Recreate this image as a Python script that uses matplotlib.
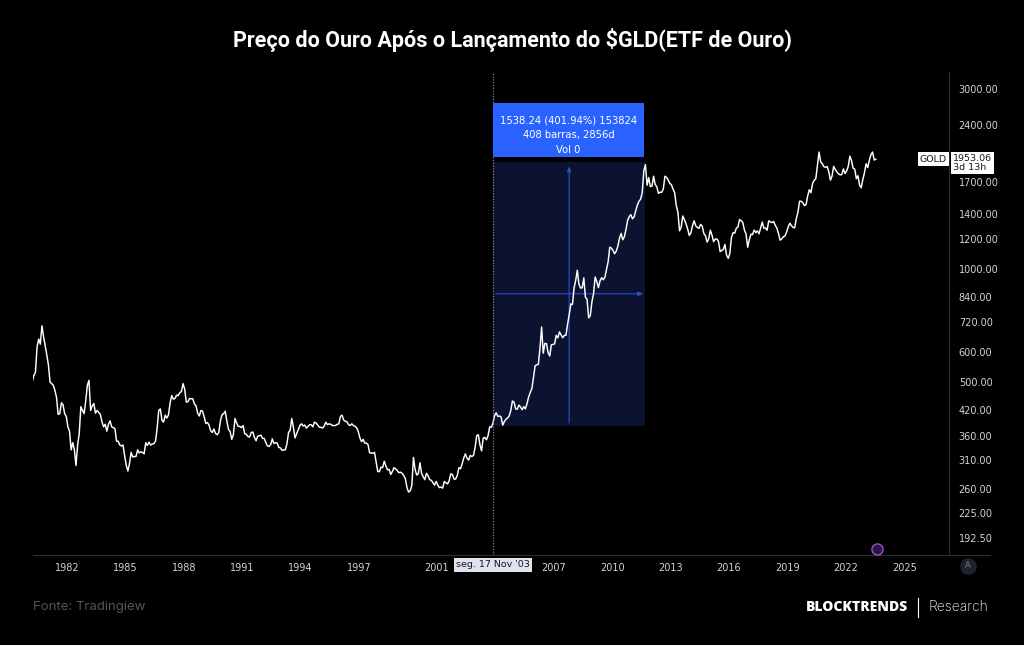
import numpy as np
import pandas as pd
import matplotlib
matplotlib.use("Agg")
import matplotlib.pyplot as plt
from matplotlib.patches import Rectangle

# monthly gold price (USD/oz), Feb 1980 .. Jul 2023
gold = [
    650, 500, 520, 530, 620, 650, 630, 705, 660, 625, 590,                # 1980 (from Feb)
    555, 500, 495, 490, 475, 455, 410, 412, 440, 435, 412, 405,           # 1981
    380, 370, 330, 345, 330, 300, 340, 365, 430, 420, 412, 445,           # 1982
    490, 505, 420, 432, 438, 413, 420, 415, 410, 392, 380, 386,           # 1983
    370, 386, 394, 380, 378, 376, 348, 348, 340, 338, 340, 318,           # 1984
    300, 290, 304, 325, 316, 317, 317, 330, 324, 326, 325, 322,           # 1985
    345, 339, 346, 340, 342, 343, 348, 376, 420, 424, 395, 391,           # 1986
    408, 401, 409, 440, 460, 450, 452, 461, 460, 468, 472, 495,           # 1987
    478, 442, 443, 452, 451, 451, 437, 432, 413, 406, 420, 418,           # 1988
    404, 388, 390, 384, 371, 367, 375, 365, 362, 367, 394, 409,           # 1989
    412, 418, 393, 374, 369, 352, 362, 400, 389, 381, 381, 378,           # 1990
    383, 364, 363, 358, 357, 367, 368, 356, 349, 359, 360, 361,           # 1991
    354, 354, 345, 338, 337, 341, 353, 343, 345, 344, 335, 334,           # 1992
    329, 330, 330, 342, 367, 372, 400, 379, 355, 364, 373, 383,           # 1993
    387, 382, 384, 377, 381, 385, 385, 380, 391, 389, 384, 379,           # 1994
    379, 377, 382, 391, 385, 387, 386, 383, 383, 383, 386, 387,           # 1995
    405, 408, 396, 393, 392, 385, 383, 387, 383, 381, 378, 369,           # 1996
    355, 347, 352, 344, 344, 341, 324, 324, 323, 325, 306, 289,           # 1997
    289, 297, 296, 308, 299, 292, 293, 284, 289, 296, 294, 291,           # 1998
    287, 288, 286, 282, 277, 262, 255, 257, 265, 315, 293, 283,           # 1999
    285, 305, 286, 280, 275, 286, 282, 275, 274, 270, 266, 272,           # 2000
    266, 262, 263, 261, 272, 270, 268, 273, 285, 284, 276, 276,           # 2001
    282, 296, 294, 303, 314, 322, 314, 310, 319, 317, 319, 335,           # 2002
    360, 362, 340, 328, 355, 356, 351, 360, 380, 379, 389, 407,           # 2003
    414, 405, 406, 404, 384, 392, 398, 401, 406, 420, 445, 442,           # 2004
    424, 423, 434, 429, 422, 430, 424, 438, 456, 469, 480, 515,           # 2005
    552, 555, 557, 615, 700, 596, 633, 632, 598, 586, 627, 629,           # 2006
    631, 665, 655, 679, 667, 655, 665, 665, 712, 754, 806, 803,           # 2007
    889, 930, 990, 909, 888, 889, 945, 839, 829, 740, 750, 816,           # 2008
    858, 950, 924, 890, 928, 946, 934, 949, 996, 1043, 1140, 1134,        # 2009
    1117, 1095, 1113, 1148, 1205, 1240, 1193, 1215, 1271, 1342, 1375, 1391,  # 2010
    1356, 1372, 1424, 1474, 1510, 1529, 1590, 1820, 1890, 1665, 1745, 1652,  # 2011
    1656, 1760, 1673, 1650, 1585, 1596, 1594, 1626, 1760, 1747, 1721, 1684,  # 2012
    1671, 1627, 1593, 1470, 1414, 1260, 1287, 1380, 1349, 1316, 1275, 1225,  # 2013
    1244, 1300, 1340, 1299, 1287, 1279, 1311, 1296, 1239, 1222, 1176, 1200,  # 2014
    1265, 1227, 1179, 1198, 1199, 1181, 1110, 1117, 1125, 1159, 1086, 1065,  # 2015
    1097, 1210, 1246, 1242, 1280, 1290, 1350, 1341, 1326, 1266, 1236, 1140,  # 2016
    1192, 1234, 1231, 1266, 1246, 1260, 1237, 1283, 1330, 1280, 1282, 1265,  # 2017
    1340, 1331, 1325, 1335, 1303, 1282, 1238, 1190, 1199, 1215, 1221, 1250,  # 2018
    1291, 1320, 1301, 1286, 1284, 1359, 1413, 1510, 1510, 1495, 1471, 1480,  # 2019
    1560, 1620, 1591, 1683, 1716, 1732, 1880, 2040, 1921, 1900, 1866, 1858,  # 2020
    1867, 1808, 1718, 1760, 1870, 1834, 1807, 1785, 1775, 1777, 1840, 1790,  # 2021
    1817, 1870, 1990, 1937, 1849, 1837, 1733, 1765, 1665, 1640, 1726, 1798,  # 2022
    1900, 1855, 1940, 2010, 2040, 1943, 1953,                                # 2023
]
months = pd.date_range("1980-02-01", periods=len(gold), freq="MS")
years = months.year + (months.month - 1 + 0.5) / 12.0

price_ticks = [192.5, 225, 260, 310, 360, 420, 500, 600, 720, 840, 1000, 1200, 1400, 1700, 2400, 3000]
year_ticks = [1982, 1985, 1988, 1991, 1994, 1997, 2001, 2007, 2010, 2013, 2016, 2019, 2022, 2025]

gld_launch = 2003 + (320 + 0.5) / 365.0   # seg. 17 Nov '03
meas_start, meas_end = 382.70, 1920.94
meas_days = 2856
last_price = 1953.06

bg = "#000000"
txt = "#d1d4dc"
grid_c = "#2a2e39"

fig = plt.figure(figsize=(10.24, 6.45), dpi=100, facecolor=bg)
ax = fig.add_axes([33 / 1024, 1 - 555 / 645, 916 / 1024, 483 / 645])
ax.set_facecolor(bg)
ax.set_yscale("log")
ax.set_ylim(173.5, 3329)
ax.set_xlim(1980.25, 2027.3)

# measurement box
x0, x1 = gld_launch, gld_launch + meas_days / 365.25
ax.add_patch(Rectangle((x0, meas_start), x1 - x0, meas_end - meas_start,
                       facecolor="#0b1330", edgecolor="none", zorder=1))
xm = (x0 + x1) / 2
ym = np.sqrt(meas_start * meas_end)
ax.annotate("", xy=(xm, meas_end * 0.99), xytext=(xm, meas_start),
            arrowprops=dict(arrowstyle="-|>,head_length=0.3,head_width=0.12", color="#2a4fd0", lw=0.8), zorder=2)
ax.annotate("", xy=(x1 + 0.05, ym), xytext=(x0, ym),
            arrowprops=dict(arrowstyle="-|>,head_length=0.3,head_width=0.12", color="#2a4fd0", lw=0.8), zorder=2)

# price line
ax.plot(years, gold, color="white", lw=1.05, zorder=3)

# launch marker
ax.axvline(gld_launch, color="#9598a1", lw=0.8, ls=(0, (1, 1.5)), zorder=4)

# blue header of measurement
ax.add_patch(Rectangle((x0, 1985), 7.75, 2755 - 1985, facecolor="#2962ff", edgecolor="none", zorder=5))
hx = x0 + 7.75 / 2
ax.text(hx, 2480, "1538.24 (401.94%) 153824", color="white", fontsize=7.2, ha="center", va="center", zorder=6)
ax.text(hx, 2260, "408 barras, 2856d", color="white", fontsize=7.2, ha="center", va="center", zorder=6)
ax.text(hx, 2060, "Vol 0", color="white", fontsize=7.2, ha="center", va="center", zorder=6)

# axes styling
for s in ["top", "left"]:
    ax.spines[s].set_visible(False)
ax.spines["right"].set_color(grid_c)
ax.spines["bottom"].set_color(grid_c)
ax.spines["right"].set_linewidth(0.8)
ax.spines["bottom"].set_linewidth(0.8)
ax.yaxis.tick_right()
ax.set_yticks(price_ticks)
ax.set_yticklabels(["%.2f" % p for p in price_ticks])
ax.yaxis.set_minor_locator(matplotlib.ticker.NullLocator())
ax.set_xticks(year_ticks)
ax.set_xticklabels([str(y) for y in year_ticks])
ax.tick_params(axis="both", colors=txt, labelsize=7, length=0, pad=6)
ax.tick_params(axis="y", pad=7)

# extend the bottom line under the price scale
fig.add_artist(plt.Line2D([949 / 1024, 990 / 1024], [1 - 555 / 645] * 2, color=grid_c, lw=0.8))

# date label on x axis
ax.text(gld_launch, 168, "seg. 17 Nov '03", color="#131722", fontsize=6.8, ha="center", va="top",
        bbox=dict(boxstyle="square,pad=0.25", fc="#e0e3eb", ec="none"), zorder=7, clip_on=False)

# last price labels
ax.text(2027.2, last_price, "GOLD", color="#131722", fontsize=6.8, ha="right", va="center",
        bbox=dict(boxstyle="square,pad=0.25", fc="white", ec="none"), zorder=7, clip_on=False)
fig.text(953 / 1024, 1 - 163 / 645, "1953.06\n3d 13h", color="#131722", fontsize=6.8, ha="left", va="center",
         linespacing=1.0, bbox=dict(boxstyle="square,pad=0.25", fc="white", ec="none"))

# small icons
fig.add_artist(plt.Line2D([877 / 1024], [1 - 549 / 645], marker="o", markersize=8,
                          markerfacecolor="#2a1640", markeredgecolor="#9c4fd6", markeredgewidth=1,
                          transform=fig.transFigure))
fig.add_artist(plt.Line2D([968 / 1024], [1 - 566 / 645], marker="o", markersize=12,
                          markerfacecolor="#1e222d", markeredgecolor="none", transform=fig.transFigure))
fig.text(968 / 1024, 1 - 566 / 645, "A", color="#787b86", fontsize=6, ha="center", va="center")

# titles and footer
fig.text(0.5, 1 - 40 / 645, "Preço do Ouro Após o Lançamento do $GLD(ETF de Ouro)", color="white",
         fontsize=15.5, fontweight="bold", family="Roboto", ha="center", va="center")
fig.text(33 / 1024, 1 - 607 / 645, "Fonte: Tradingiew", color="#555555", fontsize=9.5, family="Inter",
         ha="left", va="center")
fig.text(908 / 1024, 1 - 607 / 645, "BLOCKTRENDS", color="white", fontsize=10, fontweight="heavy",
         family="Open Sans", ha="right", va="center")
fig.add_artist(plt.Line2D([918 / 1024] * 2, [1 - 598 / 645, 1 - 617 / 645], color="white", lw=0.8))
fig.text(928 / 1024, 1 - 607 / 645, "Research", color="white", fontsize=10, family="Inter",
         fontweight="light", ha="left", va="center")

fig.savefig("out.png", dpi=100, facecolor=bg)
